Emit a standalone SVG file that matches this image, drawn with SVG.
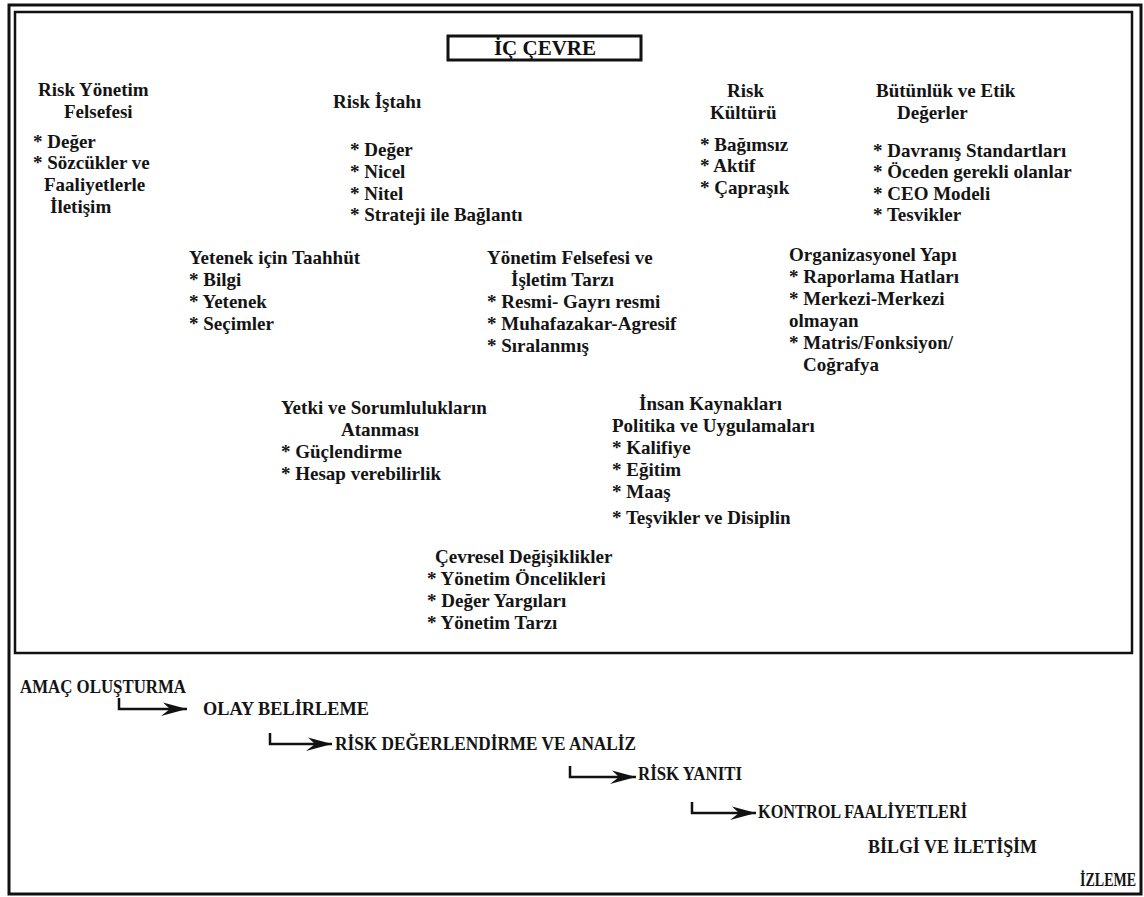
<svg xmlns="http://www.w3.org/2000/svg" width="1144" height="897" viewBox="0 0 1144 897">
<style>
.t{font-family:"Liberation Serif","Times New Roman",serif;font-weight:bold;font-size:19px;fill:#141414}
.b{font-family:"Liberation Serif","Times New Roman",serif;font-weight:bold;font-size:18px;fill:#141414}
.h{font-family:"Liberation Serif","Times New Roman",serif;font-weight:bold;font-size:21px;fill:#111}
.frame{fill:none;stroke:#111}
.conn{fill:none;stroke:#111;stroke-width:2.5}
</style>
<defs>
<marker id="arr" markerUnits="userSpaceOnUse" markerWidth="30" markerHeight="16" refX="28" refY="8" orient="auto">
<path d="M28,8 L4,1.5 L11,8 L2,15 Z" fill="#111"/>
</marker>
</defs>
<rect width="1144" height="897" fill="#fff"/>
<g id="frame">
<rect class="frame" x="9" y="5" width="1132" height="889" stroke-width="3"/>
<rect class="frame" x="15" y="12" width="1117" height="641" stroke-width="2.5"/>
</g>
<g id="ic-cevre">
<rect x="448" y="36" width="193" height="24" fill="#fff" stroke="#111" stroke-width="3"/>
<text class="h" x="545" y="55" text-anchor="middle">İÇ ÇEVRE</text>
</g>
<g id="risk-yonetim-felsefesi">
<text class="t" x="38" y="96">Risk Yönetim</text>
<text class="t" x="64" y="118">Felsefesi</text>
<text class="t" x="33" y="148">* Değer</text>
<text class="t" x="33" y="169">* Sözcükler ve</text>
<text class="t" x="44" y="191">Faaliyetlerle</text>
<text class="t" x="50" y="213">İletişim</text>
</g>
<g id="risk-istahi">
<text class="t" x="333" y="108">Risk İştahı</text>
<text class="t" x="350" y="156">* Değer</text>
<text class="t" x="350" y="178">* Nicel</text>
<text class="t" x="350" y="200">* Nitel</text>
<text class="t" x="350" y="221">* Strateji ile Bağlantı</text>
</g>
<g id="risk-kulturu">
<text class="t" x="727" y="97">Risk</text>
<text class="t" x="710" y="119">Kültürü</text>
<text class="t" x="700" y="151">* Bağımsız</text>
<text class="t" x="700" y="172">* Aktif</text>
<text class="t" x="700" y="194">* Çapraşık</text>
</g>
<g id="butunluk-etik">
<text class="t" x="876" y="97">Bütünlük ve Etik</text>
<text class="t" x="897" y="119">Değerler</text>
<text class="t" x="873" y="157">* Davranış Standartları</text>
<text class="t" x="873" y="178">* Öceden gerekli olanlar</text>
<text class="t" x="873" y="200">* CEO Modeli</text>
<text class="t" x="873" y="221">* Tesvikler</text>
</g>
<g id="yetenek">
<text class="t" x="189" y="264">Yetenek için Taahhüt</text>
<text class="t" x="189" y="286">* Bilgi</text>
<text class="t" x="189" y="308">* Yetenek</text>
<text class="t" x="189" y="330">* Seçimler</text>
</g>
<g id="yonetim-felsefesi">
<text class="t" x="487" y="264">Yönetim Felsefesi ve</text>
<text class="t" x="511" y="286">İşletim Tarzı</text>
<text class="t" x="487" y="308">* Resmi- Gayrı resmi</text>
<text class="t" x="487" y="330">* Muhafazakar-Agresif</text>
<text class="t" x="487" y="352">* Sıralanmış</text>
</g>
<g id="organizasyonel-yapi">
<text class="t" x="789" y="261">Organizasyonel Yapı</text>
<text class="t" x="789" y="283">* Raporlama Hatları</text>
<text class="t" x="789" y="305">* Merkezi-Merkezi</text>
<text class="t" x="789" y="327">olmayan</text>
<text class="t" x="789" y="349">* Matris/Fonksiyon/</text>
<text class="t" x="803" y="371">Coğrafya</text>
</g>
<g id="yetki-sorumluluk">
<text class="t" x="281" y="414">Yetki ve Sorumlulukların</text>
<text class="t" x="341" y="436">Atanması</text>
<text class="t" x="281" y="458">* Güçlendirme</text>
<text class="t" x="281" y="480">* Hesap verebilirlik</text>
</g>
<g id="insan-kaynaklari">
<text class="t" x="639" y="410">İnsan Kaynakları</text>
<text class="t" x="612" y="432">Politika ve Uygulamaları</text>
<text class="t" x="612" y="454">* Kalifiye</text>
<text class="t" x="612" y="476">* Eğitim</text>
<text class="t" x="612" y="498">* Maaş</text>
<text class="t" x="612" y="524">* Teşvikler ve Disiplin</text>
</g>
<g id="cevresel-degisiklikler">
<text class="t" x="435" y="563">Çevresel Değişiklikler</text>
<text class="t" x="427" y="585">* Yönetim Öncelikleri</text>
<text class="t" x="427" y="607">* Değer Yargıları</text>
<text class="t" x="427" y="629">* Yönetim Tarzı</text>
</g>
<g id="amac-olusturma"><text class="b" x="20" y="693" textLength="166" lengthAdjust="spacingAndGlyphs">AMAÇ OLUŞTURMA</text></g>
<g id="olay-belirleme"><text class="b" x="203" y="715" textLength="166" lengthAdjust="spacingAndGlyphs">OLAY BELİRLEME</text></g>
<g id="risk-degerlendirme"><text class="b" x="335" y="750" textLength="301" lengthAdjust="spacingAndGlyphs">RİSK DEĞERLENDİRME VE ANALİZ</text></g>
<g id="risk-yaniti"><text class="b" x="638" y="780" textLength="104" lengthAdjust="spacingAndGlyphs">RİSK YANITI</text></g>
<g id="kontrol-faaliyetleri"><text class="b" x="758" y="818" textLength="209" lengthAdjust="spacingAndGlyphs">KONTROL FAALİYETLERİ</text></g>
<g id="bilgi-iletisim"><text class="b" x="868" y="853" textLength="169" lengthAdjust="spacingAndGlyphs">BİLGİ VE İLETİŞİM</text></g>
<g id="izleme"><text class="b" transform="translate(1080,886) scale(0.78,1)" x="0" y="0">İZLEME</text></g>
<g id="connectors">
<path class="conn" d="M119,698 V709 H187" marker-end="url(#arr)"/>
<path class="conn" d="M270,733 V744 H332" marker-end="url(#arr)"/>
<path class="conn" d="M570,766 V777 H636" marker-end="url(#arr)"/>
<path class="conn" d="M692,802 V813 H756" marker-end="url(#arr)"/>
</g>
</svg>
